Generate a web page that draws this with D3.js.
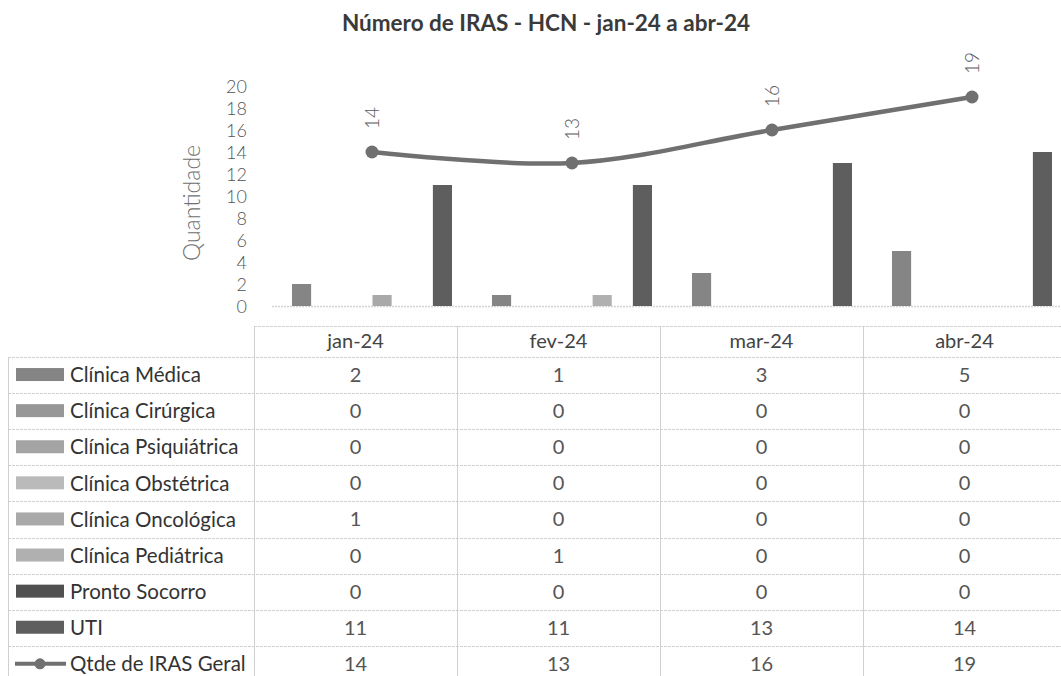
<!DOCTYPE html>
<html><head><meta charset="utf-8">
<script src="https://cdn.jsdelivr.net/npm/d3@7"></script>
<style>html,body{margin:0;padding:0;background:#fff;}svg{display:block;}</style>
</head><body>
<script>
const months = ["jan-24", "fev-24", "mar-24", "abr-24"];
const seriesNames = ["Clínica Médica", "Clínica Cirúrgica", "Clínica Psiquiátrica", "Clínica Obstétrica", "Clínica Oncológica", "Clínica Pediátrica", "Pronto Socorro", "UTI"];
const clinicaMedica = [2, 1, 3, 5];
const clinicaCirurgica = [0, 0, 0, 0];
const clinicaPsiquiatrica = [0, 0, 0, 0];
const clinicaObstetrica = [0, 0, 0, 0];
const clinicaOncologica = [1, 0, 0, 0];
const clinicaPediatrica = [0, 1, 0, 0];
const prontoSocorro = [0, 0, 0, 0];
const uti = [11, 11, 13, 14];
const lineName = "Qtde de IRAS Geral";
const qtdeGeral = [14, 13, 16, 19];
const yTicks = [0, 2, 4, 6, 8, 10, 12, 14, 16, 18, 20];
const seriesColors = ["#858585", "#979797", "#a4a4a4", "#bababa", "#a9a9a9", "#b0b0b0", "#505050", "#5e5e5e"];

const seriesValues = [clinicaMedica, clinicaCirurgica, clinicaPsiquiatrica, clinicaObstetrica, clinicaOncologica, clinicaPediatrica, prontoSocorro, uti];

const W = 1061, H = 676;
const FONT = "Lato, 'Open Sans', sans-serif";
const svg = d3.select("body").append("svg").attr("width", W).attr("height", H);

// Title
svg.append("text").attr("x", 546).attr("y", 31).attr("text-anchor", "middle")
  .attr("font-family", FONT).attr("font-weight", "bold").attr("font-size", 22.5)
  .attr("fill", "#3a3a3a").text("Número de IRAS - HCN - jan-24 a abr-24");

// Scales
const x = d3.scaleBand().domain(months).range([272, 1072]).padding(0);
const xSub = d3.scaleBand().domain(seriesNames).range([20, 180]).paddingInner(0.05);
const y = d3.scaleLinear().domain([0, 20]).range([306, 86]);

// Y axis (no line, labels only)
const yAxis = d3.axisLeft(y).tickValues(yTicks).tickSize(0).tickPadding(0);
const gy = svg.append("g").attr("transform", "translate(247,0)").call(yAxis);
gy.select(".domain").remove();
gy.selectAll("text").attr("font-family", FONT).attr("font-size", 18).attr("font-weight", 300).attr("fill", "#555").attr("dy", "0.36em");

svg.append("text").attr("transform", "translate(200,203) rotate(-90)").attr("text-anchor", "middle")
  .attr("font-family", FONT).attr("font-size", 23).attr("font-weight", 300).attr("fill", "#707070").text("Quantidade");

// Category axis line
svg.append("line").attr("x1", 272).attr("x2", W).attr("y1", y(0) + 0.5).attr("y2", y(0) + 0.5)
  .attr("stroke", "#d4d4d4").attr("stroke-width", 1.5).attr("stroke-dasharray", "2,1");

// Bars
const barData = [];
seriesNames.forEach((s, si) => months.forEach((m, mi) => barData.push({ s, si, m, v: seriesValues[si][mi] })));
svg.append("g").selectAll("rect").data(barData.filter(d => d.v > 0)).join("rect")
  .attr("x", d => x(d.m) + xSub(d.s))
  .attr("width", xSub.bandwidth())
  .attr("y", d => y(d.v))
  .attr("height", d => y(0) - y(d.v))
  .attr("fill", d => seriesColors[d.si]);

// Line
const lineColor = "#707070";
const pts = months.map((m, i) => ({ m, v: qtdeGeral[i] }));
const line = d3.line().x(d => x(d.m) + x.bandwidth() / 2).y(d => y(d.v)).curve(d3.curveCatmullRom.alpha(0.5));
svg.append("path").datum(pts).attr("d", line).attr("fill", "none").attr("stroke", lineColor).attr("stroke-width", 4.5);
svg.append("g").selectAll("circle").data(pts).join("circle")
  .attr("cx", d => x(d.m) + x.bandwidth() / 2).attr("cy", d => y(d.v)).attr("r", 6.5).attr("fill", lineColor);
svg.append("g").selectAll("text").data(pts).join("text")
  .attr("transform", d => `translate(${x(d.m) + x.bandwidth() / 2 + 7},${y(d.v) - 34}) rotate(-90)`)
  .attr("text-anchor", "middle").attr("font-family", FONT).attr("font-size", 19).attr("font-weight", 300).attr("fill", "#5a5a5a")
  .text(d => d.v);

// Data table
const colX = d3.scaleBand().domain(months).range([254, 1066]).padding(0);
const rowNames = seriesNames.concat([lineName]);
const rowY = d3.scaleBand().domain(rowNames).range([357, 357 + 36.1 * rowNames.length]).padding(0);
const grid = "#d0d0d0";
const tg = svg.append("g");
// horizontal lines
tg.append("line").attr("x1", 254).attr("x2", W).attr("y1", 326.5).attr("y2", 326.5).attr("stroke", grid).attr("stroke-dasharray", "3,1");
rowNames.forEach(r => {
  tg.append("line").attr("x1", 8).attr("x2", W).attr("y1", Math.round(rowY(r)) + 0.5).attr("y2", Math.round(rowY(r)) + 0.5)
    .attr("stroke", grid).attr("stroke-dasharray", "3,1");
});
// vertical lines
tg.append("line").attr("x1", 8.5).attr("x2", 8.5).attr("y1", 357).attr("y2", H).attr("stroke", grid);
months.forEach(m => {
  tg.append("line").attr("x1", Math.round(colX(m)) + 0.5).attr("x2", Math.round(colX(m)) + 0.5)
    .attr("y1", 326).attr("y2", H).attr("stroke", grid);
});
// header
tg.selectAll("text.hdr").data(months).join("text").attr("class", "hdr")
  .attr("x", d => colX(d) + colX.bandwidth() / 2).attr("y", 341).attr("dy", "0.35em").attr("text-anchor", "middle")
  .attr("font-family", FONT).attr("font-size", 20).attr("fill", "#444").text(d => d);
// legend cells
rowNames.forEach((r, ri) => {
  const cy = rowY(r) + rowY.bandwidth() / 2;
  if (ri < seriesNames.length) {
    tg.append("rect").attr("x", 16).attr("y", cy - 7).attr("width", 48).attr("height", 13).attr("fill", seriesColors[ri]);
  } else {
    tg.append("line").attr("x1", 15).attr("x2", 66).attr("y1", cy).attr("y2", cy).attr("stroke", lineColor).attr("stroke-width", 4);
    tg.append("circle").attr("cx", 40).attr("cy", cy).attr("r", 5.5).attr("fill", lineColor);
  }
  tg.append("text").attr("x", 70).attr("y", cy).attr("dy", "0.35em").attr("font-family", FONT).attr("font-size", 20.5)
    .attr("fill", "#333").text(r);
  const vals = ri < seriesNames.length ? seriesValues[ri] : qtdeGeral;
  months.forEach((m, mi) => {
    tg.append("text").attr("x", colX(m) + colX.bandwidth() / 2).attr("y", cy).attr("dy", "0.35em")
      .attr("text-anchor", "middle").attr("font-family", FONT).attr("font-size", 20).attr("fill", "#555").text(vals[mi]);
  });
});
</script>
</body></html>
